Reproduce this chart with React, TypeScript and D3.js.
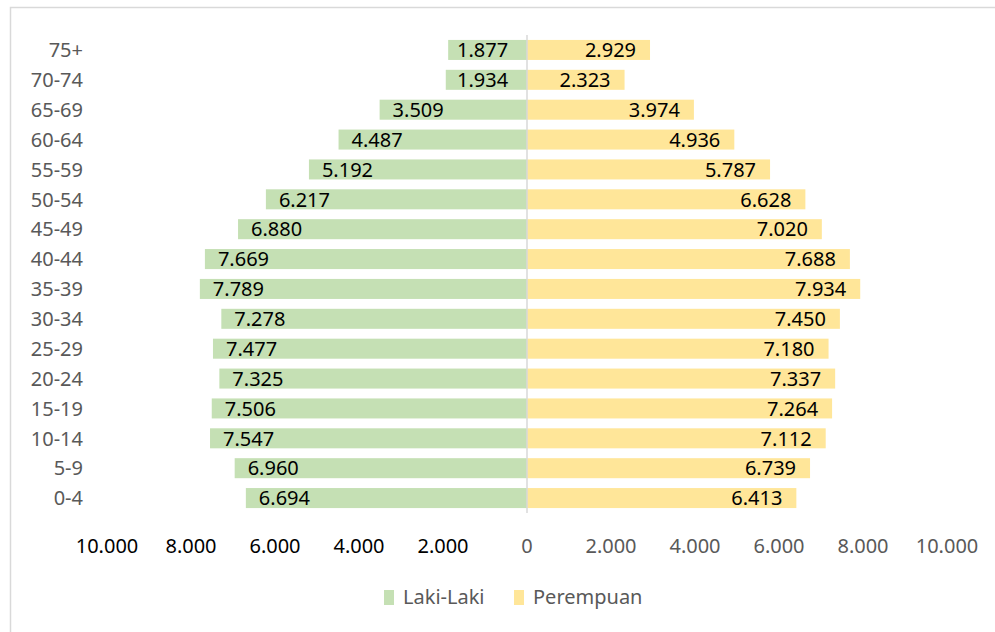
import { useRef, useEffect } from 'react';
import * as d3 from 'd3';

const AGE_GROUPS = ['75+', '70-74', '65-69', '60-64', '55-59', '50-54', '45-49', '40-44',
  '35-39', '30-34', '25-29', '20-24', '15-19', '10-14', '5-9', '0-4'];
const MALE = [1877, 1934, 3509, 4487, 5192, 6217, 6880, 7669, 7789, 7278, 7477, 7325, 7506, 7547, 6960, 6694];
const FEMALE = [2929, 2323, 3974, 4936, 5787, 6628, 7020, 7688, 7934, 7450, 7180, 7337, 7264, 7112, 6739, 6413];
const TICKS = [-10000, -8000, -6000, -4000, -2000, 0, 2000, 4000, 6000, 8000, 10000];
const SERIES = ['Laki-Laki', 'Perempuan'];

const GREEN = '#c5e0b4';
const YELLOW = '#ffe699';
const FONT = '"Noto Sans", "Open Sans", sans-serif';

export default function App() {
  const svgRef = useRef<SVGSVGElement>(null);

  useEffect(() => {
    const svg = d3.select(svgRef.current);
    svg.selectAll('*').remove();

    const width = 995;
    const height = 632;
    const fmt = (v: number) => d3.format(',')(Math.abs(v)).replace(/,/g, '.');

    // chart frame
    svg.append('rect')
      .attr('x', 10.5).attr('y', 7.5)
      .attr('width', 1000).attr('height', 700)
      .attr('fill', '#fff').attr('stroke', '#d9d9d9').attr('stroke-width', 1.5);

    const x = d3.scaleLinear().domain([-10000, 10000]).range([107, 947]);
    const y = d3.scaleBand<string>().domain(AGE_GROUPS).range([35, 513]).paddingInner(0.33).paddingOuter(0.165);
    const bh = y.bandwidth();

    const g = svg.append('g').style('font-family', FONT).style('font-size', '20px');

    // male bars (left)
    g.selectAll('rect.m').data(AGE_GROUPS).join('rect')
      .attr('class', 'm')
      .attr('x', (_d, i) => x(-MALE[i]))
      .attr('y', d => y(d)!)
      .attr('width', (_d, i) => x(0) - x(-MALE[i]))
      .attr('height', bh)
      .attr('fill', GREEN);

    // female bars (right)
    g.selectAll('rect.f').data(AGE_GROUPS).join('rect')
      .attr('class', 'f')
      .attr('x', x(0))
      .attr('y', d => y(d)!)
      .attr('width', (_d, i) => x(FEMALE[i]) - x(0))
      .attr('height', bh)
      .attr('fill', YELLOW);

    // zero line
    g.append('line')
      .attr('x1', x(0)).attr('x2', x(0))
      .attr('y1', 35).attr('y2', 513)
      .attr('stroke', '#d9d9d9').attr('stroke-width', 1.5);

    // value labels
    g.selectAll('text.ml').data(AGE_GROUPS).join('text')
      .attr('class', 'ml')
      .attr('x', (_d, i) => Math.min(x(-MALE[i]) + 13, x(0) - 70))
      .attr('y', d => y(d)! + bh / 2)
      .attr('dy', '0.36em')
      .attr('fill', '#000')
      .text((_d, i) => fmt(MALE[i]));

    g.selectAll('text.fl').data(AGE_GROUPS).join('text')
      .attr('class', 'fl')
      .attr('x', (_d, i) => x(FEMALE[i]) - 14)
      .attr('y', d => y(d)! + bh / 2)
      .attr('dy', '0.36em')
      .attr('text-anchor', 'end')
      .attr('fill', '#000')
      .text((_d, i) => fmt(FEMALE[i]));

    // category labels
    g.selectAll('text.cat').data(AGE_GROUPS).join('text')
      .attr('class', 'cat')
      .attr('x', 83)
      .attr('y', d => y(d)! + bh / 2)
      .attr('dy', '0.36em')
      .attr('text-anchor', 'end')
      .attr('fill', '#595959')
      .text(d => d);

    // x tick labels
    g.selectAll('text.tick').data(TICKS).join('text')
      .attr('class', 'tick')
      .attr('x', d => x(d))
      .attr('y', 546)
      .attr('dy', '0.36em')
      .attr('text-anchor', 'middle')
      .attr('fill', d => (d < 0 ? '#000' : '#595959'))
      .text(d => fmt(d));

    // legend
    const legend = g.append('g');
    const items = [
      { name: SERIES[0], color: GREEN, x: 384 },
      { name: SERIES[1], color: YELLOW, x: 514 },
    ];
    items.forEach(it => {
      legend.append('rect')
        .attr('x', it.x).attr('y', 590).attr('width', 10).attr('height', 15)
        .attr('fill', it.color);
      legend.append('text')
        .attr('x', it.x + 19).attr('y', 597).attr('dy', '0.36em')
        .attr('fill', '#595959')
        .text(it.name);
    });

    svg.attr('width', width).attr('height', height);
  }, []);

  return (
    <div style={{ position: 'fixed', left: 0, top: 0, width: 995, height: 632, background: '#fff', overflow: 'hidden' }}>
      <svg ref={svgRef} width={995} height={632} style={{ display: 'block' }} />
    </div>
  );
}
